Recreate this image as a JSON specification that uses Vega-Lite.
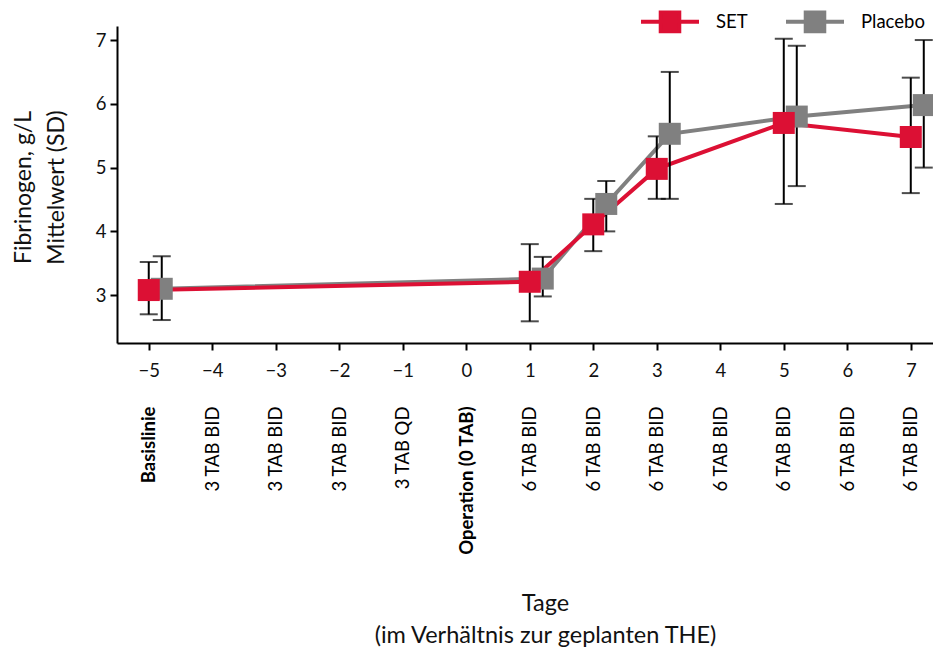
{
  "$schema": "https://vega.github.io/schema/vega-lite/v6.json",
  "width": 816,
  "height": 317,
  "autosize": {"type": "none"},
  "padding": {"left": 117, "top": 26, "right": 0, "bottom": 309},
  "background": "white",
  "config": {
    "font": "Lato",
    "view": {"stroke": null},
    "axis": {"grid": false, "domainColor": "black", "domainWidth": 2, "tickColor": "black", "tickWidth": 2, "labelColor": "#111111", "titleColor": "#111111", "titleFontWeight": "normal", "labelFlush": false, "labelOverlap": false},
    "axisY": {"tickSize": 7, "labelFontSize": 18.5, "labelPadding": 4, "titleFontSize": 23}
  },
  "data": {
    "values": [
      {"tag": -5, "gruppe": "Placebo", "mittel": 3.10, "unten": 2.61, "oben": 3.61},
      {"tag": 1, "gruppe": "Placebo", "mittel": 3.26, "unten": 2.98, "oben": 3.60},
      {"tag": 2, "gruppe": "Placebo", "mittel": 4.43, "unten": 4.00, "oben": 4.79},
      {"tag": 3, "gruppe": "Placebo", "mittel": 5.53, "unten": 4.51, "oben": 6.50},
      {"tag": 5, "gruppe": "Placebo", "mittel": 5.80, "unten": 4.71, "oben": 6.91},
      {"tag": 7, "gruppe": "Placebo", "mittel": 5.98, "unten": 5.00, "oben": 7.00},
      {"tag": -5, "gruppe": "SET", "mittel": 3.08, "unten": 2.70, "oben": 3.52},
      {"tag": 1, "gruppe": "SET", "mittel": 3.21, "unten": 2.59, "oben": 3.80},
      {"tag": 2, "gruppe": "SET", "mittel": 4.11, "unten": 3.69, "oben": 4.51},
      {"tag": 3, "gruppe": "SET", "mittel": 4.98, "unten": 4.51, "oben": 5.49},
      {"tag": 5, "gruppe": "SET", "mittel": 5.70, "unten": 4.43, "oben": 7.02},
      {"tag": 7, "gruppe": "SET", "mittel": 5.48, "unten": 4.60, "oben": 6.41}
    ]
  },
  "resolve": {"axis": {"x": "independent"}},
  "layer": [
    {
      "transform": [{"filter": "datum.gruppe == 'Placebo'"}],
      "mark": {"type": "line", "strokeWidth": 4, "xOffset": 13},
      "encoding": {
        "x": {"field": "tag", "type": "quantitative", "scale": {"domain": [-5.5, 7.35], "nice": false, "zero": false},
          "axis": {"orient": "bottom", "values": [-5, -4, -3, -2, -1, 0, 1, 2, 3, 4, 5, 6, 7], "domain": false, "ticks": false, "tickSize": 0, "labelAngle": 270, "labelAlign": "right", "labelBaseline": "middle", "labelPadding": 63, "labelFontSize": 18.5, "labelColor": "black",
            "labelFontWeight": {"condition": {"test": "datum.value == -5 || datum.value == 0", "value": "bold"}, "value": "normal"},
            "labelExpr": "datum.value == -5 ? 'Basislinie' : datum.value == 0 ? 'Operation (0 TAB)' : datum.value == -1 ? '3 TAB QD' : datum.value < 0 ? '3 TAB BID' : '6 TAB BID'",
            "title": ["Tage", "(im Verhältnis zur geplanten THE)"], "titleFontSize": 23.5, "titleX": 428, "titleY": 248, "titleAlign": "center", "titleBaseline": "top", "titleLineHeight": 32, "titleAnchor": null}},
        "y": {"field": "mittel", "type": "quantitative", "scale": {"domain": [2.25, 7.22], "nice": false, "zero": false},
          "axis": {"values": [3, 4, 5, 6, 7], "title": ["Fibrinogen, g/L", "Mittelwert (SD)"], "titleX": -82, "titleY": 161, "titleAngle": 270, "titleAlign": "center", "titleBaseline": "bottom", "titleLineHeight": 33}},
        "color": {"field": "gruppe", "type": "nominal", "scale": {"domain": ["SET", "Placebo"], "range": ["#DC1034", "#808080"]},
          "legend": {"orient": "none", "legendX": 522, "legendY": -35.5, "direction": "horizontal", "title": null, "padding": 0,
            "symbolType": "M-1,0H1M-0.32,-0.32H0.32V0.32H-0.32Z", "symbolSize": 3364, "symbolStrokeWidth": 4,
            "labelFontSize": 18.5, "labelColor": "black", "labelOffset": 15, "columnPadding": 30,
            "encode": {"symbols": {"update": {"fill": {"scale": "color", "field": "value"}, "stroke": {"scale": "color", "field": "value"}, "strokeWidth": {"value": 4}, "opacity": {"value": 1}}}}}}
      }
    },
    {
      "transform": [{"filter": "datum.gruppe == 'SET'"}],
      "mark": {"type": "line", "strokeWidth": 4},
      "encoding": {
        "x": {"field": "tag", "type": "quantitative", "scale": {"domain": [-5.5, 7.35], "nice": false, "zero": false},
          "axis": {"orient": "bottom", "values": [-5, -4, -3, -2, -1, 0, 1, 2, 3, 4, 5, 6, 7], "tickSize": 7, "labelPadding": 11, "labelFontSize": 18.5, "labelBaseline": "top",
            "labelExpr": "datum.value < 0 ? '−' + abs(datum.value) : '' + datum.value", "title": null}},
        "y": {"field": "mittel", "type": "quantitative", "scale": {"domain": [2.25, 7.22], "nice": false, "zero": false},
          "axis": {"values": [3, 4, 5, 6, 7], "title": ["Fibrinogen, g/L", "Mittelwert (SD)"], "titleX": -82, "titleY": 161, "titleAngle": 270, "titleAlign": "center", "titleBaseline": "bottom", "titleLineHeight": 33}},
        "color": {"field": "gruppe", "type": "nominal", "scale": {"domain": ["SET", "Placebo"], "range": ["#DC1034", "#808080"]},
          "legend": {"orient": "none", "legendX": 522, "legendY": -35.5, "direction": "horizontal", "title": null, "padding": 0,
            "symbolType": "M-1,0H1M-0.32,-0.32H0.32V0.32H-0.32Z", "symbolSize": 3364, "symbolStrokeWidth": 4,
            "labelFontSize": 18.5, "labelColor": "black", "labelOffset": 15, "columnPadding": 30,
            "encode": {"symbols": {"update": {"fill": {"scale": "color", "field": "value"}, "stroke": {"scale": "color", "field": "value"}, "strokeWidth": {"value": 4}, "opacity": {"value": 1}}}}}}
      }
    },
    {
      "transform": [{"filter": "datum.gruppe == 'Placebo'"}],
      "mark": {"type": "errorbar", "color": "black", "thickness": 2, "size": 18, "ticks": {"xOffset": 13}, "rule": {"xOffset": 13}},
      "encoding": {
        "x": {"field": "tag", "type": "quantitative", "scale": {"domain": [-5.5, 7.35], "nice": false, "zero": false}, "axis": null},
        "y": {"field": "unten", "type": "quantitative", "scale": {"domain": [2.25, 7.22], "nice": false, "zero": false},
          "axis": {"values": [3, 4, 5, 6, 7], "title": ["Fibrinogen, g/L", "Mittelwert (SD)"], "titleX": -82, "titleY": 161, "titleAngle": 270, "titleAlign": "center", "titleBaseline": "bottom", "titleLineHeight": 33}},
        "y2": {"field": "oben"}
      }
    },
    {
      "transform": [{"filter": "datum.gruppe == 'SET'"}],
      "mark": {"type": "errorbar", "color": "black", "thickness": 2, "size": 18, "ticks": true},
      "encoding": {
        "x": {"field": "tag", "type": "quantitative", "scale": {"domain": [-5.5, 7.35], "nice": false, "zero": false}, "axis": null},
        "y": {"field": "unten", "type": "quantitative", "scale": {"domain": [2.25, 7.22], "nice": false, "zero": false},
          "axis": {"values": [3, 4, 5, 6, 7], "title": ["Fibrinogen, g/L", "Mittelwert (SD)"], "titleX": -82, "titleY": 161, "titleAngle": 270, "titleAlign": "center", "titleBaseline": "bottom", "titleLineHeight": 33}},
        "y2": {"field": "oben"}
      }
    },
    {
      "transform": [{"filter": "datum.gruppe == 'Placebo'"}],
      "mark": {"type": "point", "shape": "square", "filled": true, "size": 484, "opacity": 1, "xOffset": 13},
      "encoding": {
        "x": {"field": "tag", "type": "quantitative", "scale": {"domain": [-5.5, 7.35], "nice": false, "zero": false}, "axis": null},
        "y": {"field": "mittel", "type": "quantitative", "scale": {"domain": [2.25, 7.22], "nice": false, "zero": false},
          "axis": {"values": [3, 4, 5, 6, 7], "title": ["Fibrinogen, g/L", "Mittelwert (SD)"], "titleX": -82, "titleY": 161, "titleAngle": 270, "titleAlign": "center", "titleBaseline": "bottom", "titleLineHeight": 33}},
        "color": {"field": "gruppe", "type": "nominal", "scale": {"domain": ["SET", "Placebo"], "range": ["#DC1034", "#808080"]},
          "legend": {"orient": "none", "legendX": 522, "legendY": -35.5, "direction": "horizontal", "title": null, "padding": 0,
            "symbolType": "M-1,0H1M-0.32,-0.32H0.32V0.32H-0.32Z", "symbolSize": 3364, "symbolStrokeWidth": 4,
            "labelFontSize": 18.5, "labelColor": "black", "labelOffset": 15, "columnPadding": 30,
            "encode": {"symbols": {"update": {"fill": {"scale": "color", "field": "value"}, "stroke": {"scale": "color", "field": "value"}, "strokeWidth": {"value": 4}, "opacity": {"value": 1}}}}}}
      }
    },
    {
      "transform": [{"filter": "datum.gruppe == 'SET'"}],
      "mark": {"type": "point", "shape": "square", "filled": true, "size": 484, "opacity": 1},
      "encoding": {
        "x": {"field": "tag", "type": "quantitative", "scale": {"domain": [-5.5, 7.35], "nice": false, "zero": false}, "axis": null},
        "y": {"field": "mittel", "type": "quantitative", "scale": {"domain": [2.25, 7.22], "nice": false, "zero": false},
          "axis": {"values": [3, 4, 5, 6, 7], "title": ["Fibrinogen, g/L", "Mittelwert (SD)"], "titleX": -82, "titleY": 161, "titleAngle": 270, "titleAlign": "center", "titleBaseline": "bottom", "titleLineHeight": 33}},
        "color": {"field": "gruppe", "type": "nominal", "scale": {"domain": ["SET", "Placebo"], "range": ["#DC1034", "#808080"]},
          "legend": {"orient": "none", "legendX": 522, "legendY": -35.5, "direction": "horizontal", "title": null, "padding": 0,
            "symbolType": "M-1,0H1M-0.32,-0.32H0.32V0.32H-0.32Z", "symbolSize": 3364, "symbolStrokeWidth": 4,
            "labelFontSize": 18.5, "labelColor": "black", "labelOffset": 15, "columnPadding": 30,
            "encode": {"symbols": {"update": {"fill": {"scale": "color", "field": "value"}, "stroke": {"scale": "color", "field": "value"}, "strokeWidth": {"value": 4}, "opacity": {"value": 1}}}}}}
      }
    }
  ]
}
